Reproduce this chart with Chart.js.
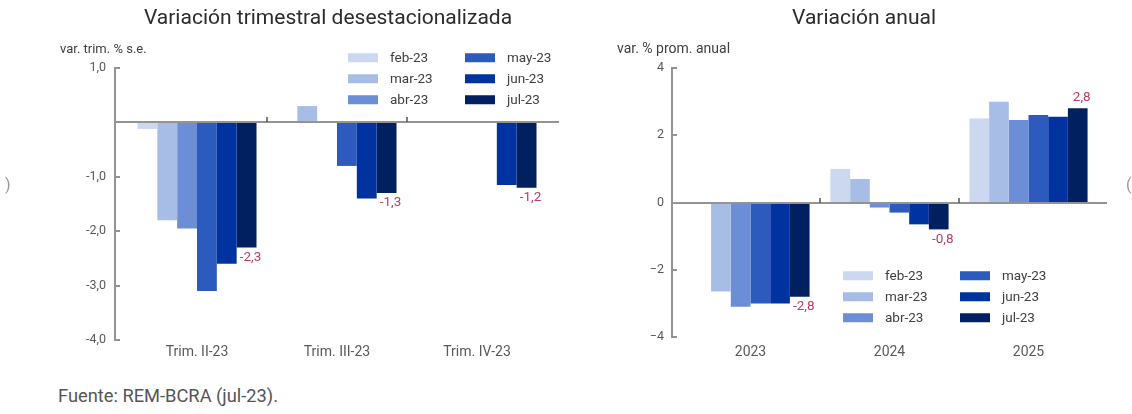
<!DOCTYPE html>
<html><head><meta charset="utf-8">
<script src="https://cdn.jsdelivr.net/npm/chart.js@4.4.1/dist/chart.umd.min.js"></script>
<style>
body{margin:0;width:1132px;height:414px;background:#fff;overflow:hidden;position:relative;font-family:Roboto,"Noto Sans",sans-serif;}
.abs{position:absolute;white-space:nowrap;line-height:1;}
.title{font-size:21px;color:#2b2b2b;transform:translate(-50%,-50%);}
.unit{font-size:13px;color:#404040;transform:translateY(-50%);}
.leg{font-size:13.5px;color:#404040;transform:translateY(-50%);display:flex;align-items:center;}
.leg span.sw{display:inline-block;width:30px;height:9px;margin-right:12px;}
.src{font-size:18.3px;color:#555;transform:translateY(-50%);}
.edge{font-size:16px;color:#999;transform:translateY(-50%);}
canvas{position:absolute;top:0;}
</style></head>
<body>
<canvas id="cTrim" width="566" height="370" style="left:0"></canvas>
<canvas id="cAnual" width="566" height="370" style="left:566px"></canvas>
<div class="abs title" style="left:328px;top:17px">Variación trimestral desestacionalizada</div>
<div class="abs title" style="left:864px;top:17px">Variación anual</div>
<div class="abs unit" style="left:60px;top:48px">var. trim. % s.e.</div>
<div class="abs unit" style="left:617px;top:48px;font-size:14px">var. % prom. anual</div>
<div class="abs src" style="left:58px;top:396px">Fuente: REM-BCRA (jul-23).</div>
<div class="abs edge" style="left:5px;top:185px">)</div>
<div class="abs edge" style="left:1126px;top:185px">(</div>
<div id="legends"></div>
<script>
// ---- data ----
const seriesNames = ['feb-23','mar-23','abr-23','may-23','jun-23','jul-23'];
const seriesColors = ['#cbd8f0','#a8bde6','#6b8ed6','#2d5bbd','#0033a0','#00205f'];

const trimCategories = ['Trim. II-23','Trim. III-23','Trim. IV-23'];
const trimFeb = [-0.12, null, null];
const trimMar = [-1.8, 0.3, null];
const trimAbr = [-1.95, null, null];
const trimMay = [-3.1, -0.8, null];
const trimJun = [-2.6, -1.4, -1.15];
const trimJul = [-2.3, -1.3, -1.2];
const trimTicks = [1, 0, -1, -2, -3, -4];

const anualCategories = ['2023','2024','2025'];
const anualFeb = [null, 1.0, 2.5];
const anualMar = [-2.65, 0.7, 3.0];
const anualAbr = [-3.1, -0.15, 2.45];
const anualMay = [-3.0, -0.3, 2.6];
const anualJun = [-3.0, -0.65, 2.55];
const anualJul = [-2.8, -0.8, 2.8];
const anualTicks = [4, 2, 0, -2, -4];

const fmtComma = v => v.toFixed(1).replace('.', ',');

// ---- plugins ----
const axisDecor = {
  id: 'axisDecor',
  afterDatasetsDraw(chart, args, o) {
    const {ctx, chartArea: a, scales: {x, y}} = chart;
    const ax = a.left - o.padL, ex = a.right + o.padR;
    const y0 = Math.round(y.getPixelForValue(0));
    ctx.save();
    ctx.strokeStyle = '#939393';
    ctx.lineWidth = 2;
    ctx.beginPath();
    ctx.moveTo(ax, y.getPixelForValue(y.max) - 1);
    ctx.lineTo(ax, y.getPixelForValue(y.min) + 1);
    y.ticks.forEach(t => {
      const py = Math.round(y.getPixelForValue(t.value));
      ctx.moveTo(ax, py); ctx.lineTo(ax + 5, py);
    });
    ctx.moveTo(ax, y0); ctx.lineTo(ex, y0);
    ctx.stroke();
    ctx.beginPath();
    ctx.strokeStyle = '#555';
    ctx.lineWidth = 1.5;
    for (let i = 1; i < x.ticks.length; i++) {
      const px = Math.round((x.getPixelForTick(i - 1) + x.getPixelForTick(i)) / 2);
      ctx.moveTo(px, y0); ctx.lineTo(px, y0 - 5);
    }
    ctx.stroke();
    ctx.restore();
  }
};
const lastLabels = {
  id: 'lastLabels',
  afterDatasetsDraw(chart, args, o) {
    const {ctx} = chart;
    const di = chart.data.datasets.length - 1;
    const meta = chart.getDatasetMeta(di);
    const vals = chart.data.datasets[di].data;
    ctx.save();
    ctx.font = '13.5px Roboto';
    ctx.fillStyle = '#b83c66';
    ctx.textAlign = 'center';
    ctx.textBaseline = 'middle';
    meta.data.forEach((el, i) => {
      const v = vals[i];
      if (v == null) return;
      ctx.fillText(fmtComma(v), el.x + 4, el.y + (v < 0 ? 10 : -11));
    });
    ctx.restore();
  }
};

function makeChart(id, cats, dataArrs, ticksArr, cfg) {
  const datasets = dataArrs.map((d, i) => ({
    label: seriesNames[i], data: d, backgroundColor: seriesColors[i],
    barPercentage: 1, categoryPercentage: 0.85, borderWidth: 0
  }));
  return new Chart(document.getElementById(id), {
    type: 'bar',
    data: {labels: cats, datasets},
    options: {
      responsive: false, animation: false, devicePixelRatio: 1,
      layout: {padding: {top: cfg.top, right: cfg.right, left: 0, bottom: 0}},
      plugins: {legend: {display: false}, tooltip: {enabled: false},
        axisDecor: {padL: cfg.padL, padR: cfg.padR}},
      scales: {
        x: {grid: {display: false, drawTicks: false}, border: {display: false},
          ticks: {color: '#595959', font: {family: 'Roboto', size: 14}, padding: cfg.xPad},
          afterFit: s => { s.height = cfg.xHeight; }},
        y: {min: Math.min(...ticksArr), max: Math.max(...ticksArr),
          grid: {display: false, drawTicks: false}, border: {display: false},
          afterBuildTicks: s => { s.ticks = ticksArr.map(v => ({value: v})); },
          ticks: {color: '#595959', font: {family: 'Roboto', size: 12.5}, padding: cfg.yPad,
            callback: cfg.fmt},
          afterFit: s => { s.width = cfg.yWidth; }}
      }
    },
    plugins: [axisDecor, lastLabels]
  });
}

makeChart('cTrim', trimCategories,
  [trimFeb, trimMar, trimAbr, trimMay, trimJun, trimJul], trimTicks,
  {top: 68, right: 19, xHeight: 30, xPad: 4, yWidth: 127, yPad: 21, padL: 12, padR: 12,
   fmt: v => v === 0 ? '' : fmtComma(v)});
makeChart('cAnual', anualCategories,
  [anualFeb, anualMar, anualAbr, anualMay, anualJun, anualJul], anualTicks,
  {top: 68, right: 34, xHeight: 33, xPad: 7, yWidth: 115, yPad: 17, padL: 9, padR: 9,
   fmt: v => v < 0 ? '\u2212' + Math.abs(v) : String(v)});

// ---- legends (HTML, built from series arrays) ----
function legend(colX, rowY) {
  const box = document.getElementById('legends');
  seriesNames.forEach((n, i) => {
    const d = document.createElement('div');
    d.className = 'abs leg';
    d.style.left = colX[Math.floor(i / 3)] + 'px';
    d.style.top = rowY[i % 3] + 'px';
    d.innerHTML = '<span class="sw" style="background:' + seriesColors[i] + '"></span>' + n;
    box.appendChild(d);
  });
}
legend([348, 465], [58, 79, 100]);
legend([843, 960], [276, 297, 318]);
</script>
</body></html>
